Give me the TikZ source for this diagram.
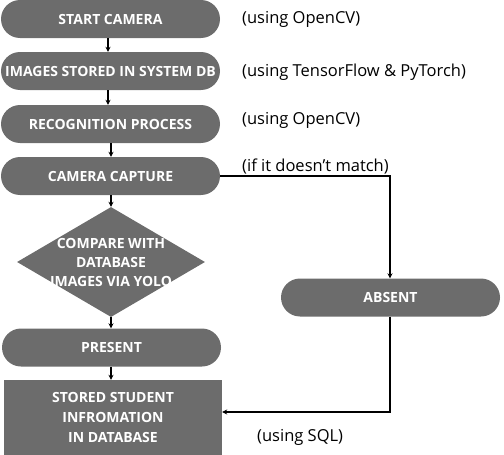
\documentclass[tikz,border=0pt]{standalone}
\usepackage{fontspec}
\setmainfont{Open Sans}
\usetikzlibrary{shapes.geometric,arrows.meta}
\definecolor{boxgray}{HTML}{6C6C6C}
\tikzset{
  pill/.style={draw=none,fill=boxgray,rounded corners=19pt,minimum width=219pt,minimum height=38pt,inner sep=0pt,text=white,font=\bfseries\fontsize{14}{16}\selectfont,align=center},
  rectbox/.style={draw=none,fill=boxgray,minimum width=218pt,minimum height=75pt,inner sep=0pt,text=white,font=\bfseries\fontsize{14}{20}\selectfont,align=center},
  decision/.style={diamond,draw=none,fill=boxgray,minimum width=188pt,minimum height=110pt,inner sep=0pt},
  dtext/.style={inner sep=0pt,text=white,font=\bfseries\fontsize{14}{19}\selectfont,align=center},
  note/.style={anchor=west,inner sep=0pt,font=\fontsize{16.5}{18}\selectfont},
  conn/.style={draw=black,line width=1.1pt,-{Stealth[length=5pt,width=5pt]}}
}
\begin{document}
\begin{tikzpicture}[x=1pt,y=-1pt]
\useasboundingbox (0,0) rectangle (504,455);
\node[pill] (start) at (110.5,19) {START CAMERA};
\node[pill] (images) at (110.5,71) {IMAGES STORED IN SYSTEM DB};
\node[pill] (recog) at (110.5,124) {RECOGNITION PROCESS};
\node[pill] (capture) at (110.5,176) {CAMERA CAPTURE};
\node[decision] (compare) at (111,262) {};
\node[dtext] (comparetext) at (111,262) {COMPARE WITH\\DATABASE\\IMAGES VIA YOLO};
\node[pill] (absent) at (390.5,297.5) {ABSENT};
\node[pill] (present) at (111.5,347.5) {PRESENT};
\node[rectbox] (stored) at (113,417.5) {STORED STUDENT\\INFROMATION\\IN DATABASE};
\node[note] (n1) at (242,19) {(using OpenCV)};
\node[note] (n2) at (242,72) {(using TensorFlow \& PyTorch)};
\node[note] (n3) at (242,120) {(using OpenCV)};
\node[note] (n4) at (242,166) {(if it doesn’t match)};
\node[note] (n5) at (257,437) {(using SQL)};
\coordinate (c1) at (390,176);
\coordinate (c2) at (390,412);
\draw[conn] (start.south -| 108,0) -- (images.north -| 108,0);
\draw[conn] (images.south -| 108,0) -- (recog.north -| 108,0);
\draw[conn] (recog.south -| 111,0) -- (capture.north -| 111,0);
\draw[conn] (capture.south -| 111,0) -- (compare.north -| 111,0);
\draw[conn] (compare.south -| 111,0) -- (present.north -| 111,0);
\draw[conn] (present.south -| 111,0) -- (stored.north -| 111,0);
\draw[conn] (capture.east) -- (c1) -- (absent.north -| c1);
\draw[conn] (absent.south -| c2) -- (c2) -- (stored.east |- c2);
\end{tikzpicture}
\end{document}
